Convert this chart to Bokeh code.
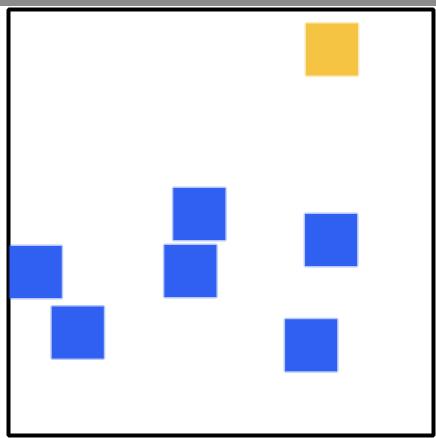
from bokeh.plotting import figure
from bokeh.layouts import column
from bokeh.models import Div, Range1d
from bokeh.embed import file_html
from bokeh.resources import INLINE

# data
blue_x = [44.9, 42.8, 75.9, 6.4, 16.3, 71.2]
blue_y = [52.0, 38.6, 45.9, 38.4, 24.2, 21.2]
yellow_x = [76.1]
yellow_y = [90.6]

p = figure(width=436, height=432, output_backend="svg", toolbar_location=None,
           x_range=Range1d(0, 100), y_range=Range1d(0, 100),
           min_border_left=8, min_border_right=3, min_border_top=3, min_border_bottom=3)
p.axis.visible = False
p.grid.visible = False
p.outline_line_color = "black"
p.outline_line_width = 4
p.border_fill_color = "white"
p.background_fill_color = "white"

p.scatter(blue_x, blue_y, marker="square", size=52, fill_color="#3060F2",
          line_color="#3060F2", line_alpha=0.35, line_width=3)
p.scatter(yellow_x, yellow_y, marker="square", size=52, fill_color="#F5C443",
          line_color="#F5C443", line_alpha=0.35, line_width=3)

top = Div(width=436, height=6, styles={"background-color": "#8c8c8c", "margin": "0"})
layout = column(top, p, spacing=0)
open("out.html", "w").write(file_html(layout, INLINE))
